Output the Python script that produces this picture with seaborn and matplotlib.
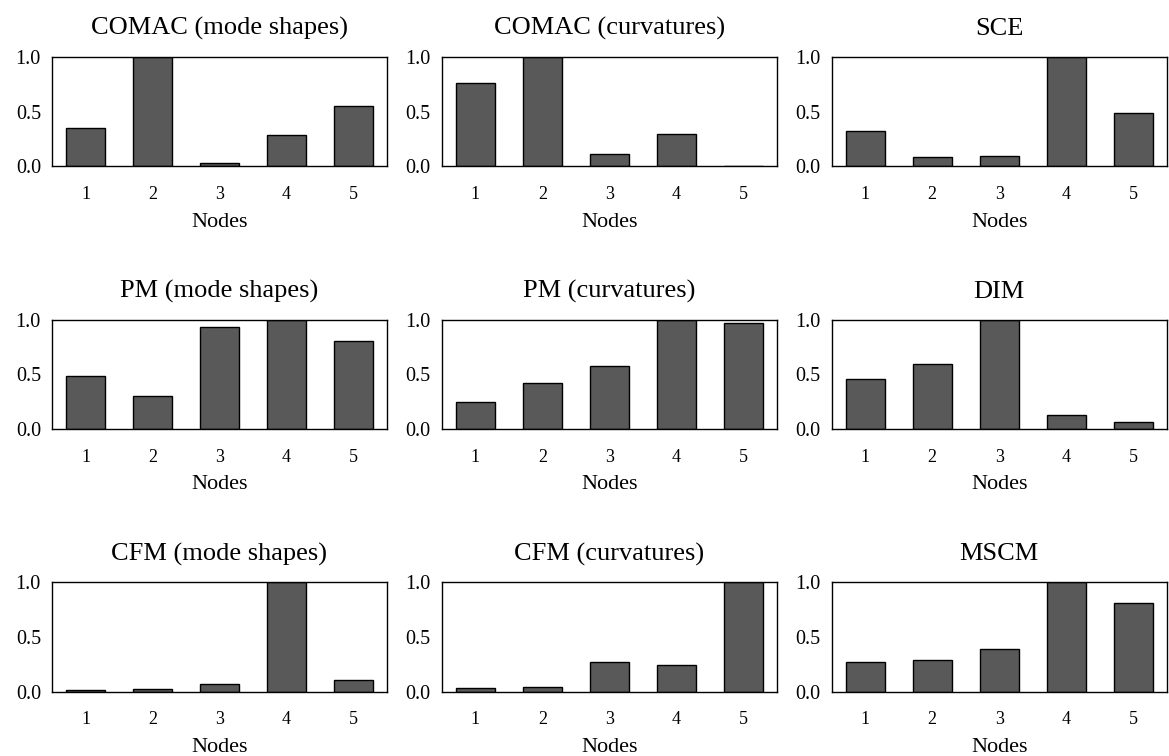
import pandas as pd
import seaborn as sns
import matplotlib.pyplot as plt

sns.set_theme(style="white")
plt.rcParams['font.family'] = ['Liberation Serif', 'DejaVu Serif']

nodes = ["1", "2", "3", "4", "5"]

titles = ["COMAC (mode shapes)", "COMAC (curvatures)", "SCE",
          "PM (mode shapes)", "PM (curvatures)", "DIM",
          "CFM (mode shapes)", "CFM (curvatures)", "MSCM"]

comac_modes = [0.35, 1.00, 0.03, 0.29, 0.55]
comac_curv = [0.76, 1.00, 0.11, 0.30, 0.005]
sce = [0.32, 0.09, 0.10, 1.00, 0.49]
pm_modes = [0.485, 0.30, 0.935, 1.00, 0.81]
pm_curv = [0.25, 0.42, 0.575, 1.00, 0.97]
dim = [0.46, 0.595, 1.00, 0.13, 0.065]
cfm_modes = [0.02, 0.024, 0.073, 1.00, 0.11]
cfm_curv = [0.033, 0.043, 0.27, 0.25, 1.00]
mscm = [0.27, 0.29, 0.39, 1.00, 0.815]

series = [comac_modes, comac_curv, sce, pm_modes, pm_curv, dim,
          cfm_modes, cfm_curv, mscm]

f, axes = plt.subplots(3, 3, figsize=(11.69, 7.56), dpi=100)
f.subplots_adjust(left=0.0445, right=0.998, top=0.9246, bottom=0.0847,
                  wspace=0.164, hspace=1.4)

for ax, title, vals in zip(axes.flat, titles, series):
    df = pd.DataFrame({"node": nodes, "value": vals})
    sns.barplot(data=df, x="node", y="value", ax=ax, color="#595959",
                saturation=1, edgecolor="black", linewidth=1, width=0.58)
    ax.set_ylim(0, 1)
    ax.set_xlim(-0.5, 4.5)
    ax.set_yticks([0, 0.5, 1.0])
    ax.set_yticklabels(["0.0", "0.5", "1.0"])
    ax.tick_params(axis="both", length=0, colors="black")
    ax.tick_params(axis="x", pad=14, labelsize=13)
    ax.tick_params(axis="y", pad=8, labelsize=14.5)
    ax.set_xlabel("Nodes", fontsize=16, labelpad=7, color="black")
    ax.set_ylabel("")
    ax.set_title(title, fontsize=19, pad=16, color="black")
    for s in ax.spines.values():
        s.set_visible(True)
        s.set_color("black")
        s.set_linewidth(1)

f.savefig("out.png", dpi=100)
